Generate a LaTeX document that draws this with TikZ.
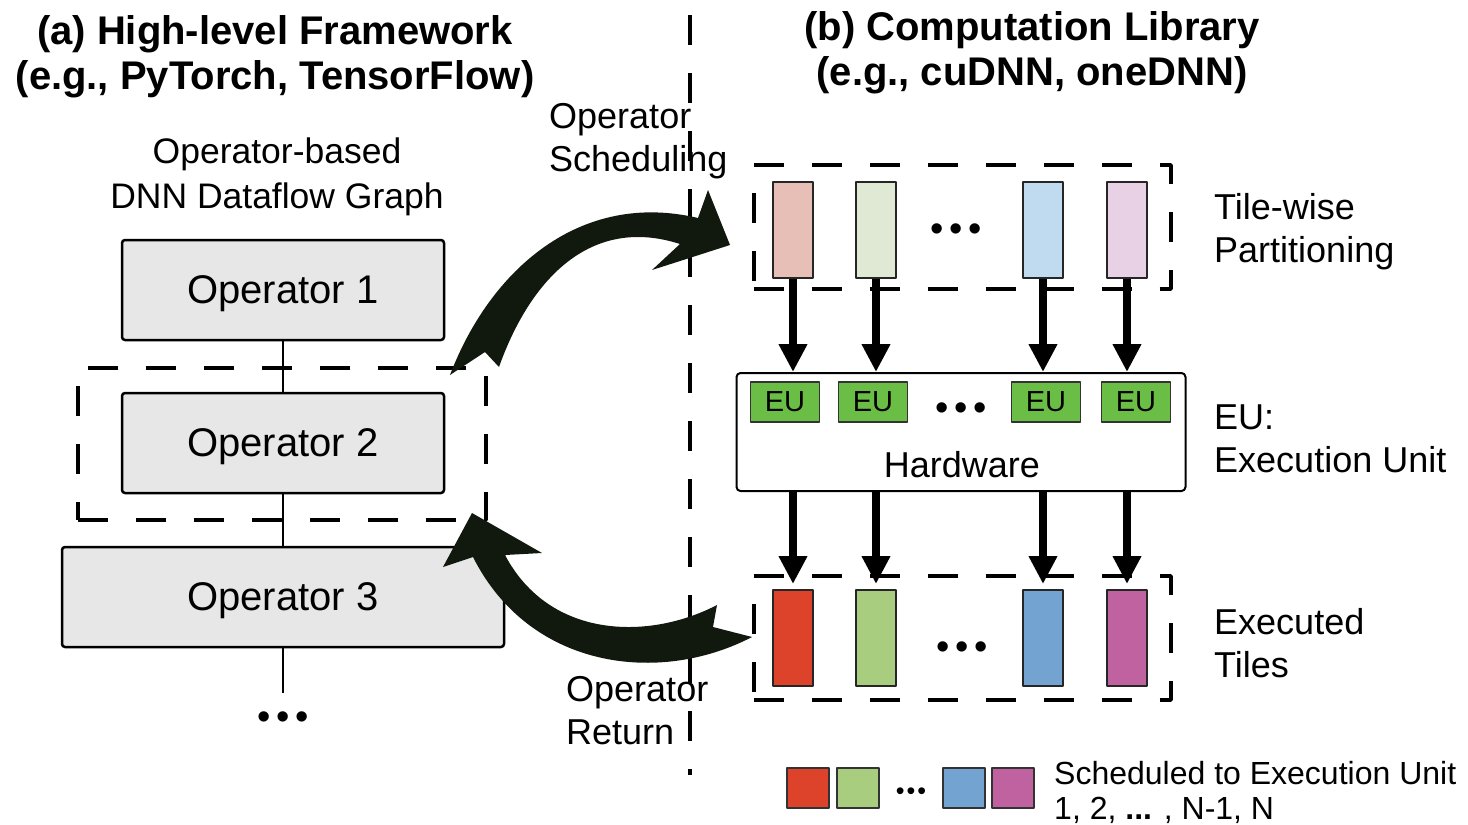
\documentclass[tikz,border=0pt]{standalone}
\usepackage{fontspec}
\setmainfont{Liberation Sans}
\usetikzlibrary{arrows.meta}
\definecolor{arrowdark}{RGB}{17,24,13}
\definecolor{opgray}{RGB}{231,231,231}
\definecolor{eugreen}{RGB}{107,190,69}
\definecolor{tilered}{RGB}{221,66,42}
\definecolor{tilegreen}{RGB}{168,205,126}
\definecolor{tileblue}{RGB}{114,163,209}
\definecolor{tilepink}{RGB}{192,97,160}
\definecolor{palered}{RGB}{232,191,182}
\definecolor{palegreen}{RGB}{224,233,212}
\definecolor{paleblue}{RGB}{192,218,240}
\definecolor{palepink}{RGB}{232,208,229}
\newcommand{\bigdots}{{\fontsize{38}{38}\selectfont •\kern6pt•\kern6pt•}}
\newcommand{\smalldots}{{\fontsize{25}{25}\selectfont •\kern2pt•\kern2pt•}}
\begin{document}
\begin{tikzpicture}[x=1pt,y=-1pt,>=latex,line join=bevel,
  opbox/.style={draw,line width=2.5pt,fill=opgray,rounded corners=3pt,minimum height=100pt,text depth=0pt,font=\fontsize{40}{46}\selectfont},
  tilebox/.style={draw=black!85,line width=2pt,minimum width=40pt,minimum height=96pt,inner sep=0pt},
  eubox/.style={draw=black!80,line width=1.5pt,fill=eugreen,minimum width=69pt,minimum height=40pt,inner sep=0pt,font=\fontsize{29}{29}\selectfont},
  legbox/.style={draw=black!80,line width=1.5pt,minimum width=42pt,minimum height=40pt,inner sep=0pt},
  groupbox/.style={draw,line width=4pt,dash pattern=on 30pt off 28pt,inner sep=0pt},
  sidelabel/.style={anchor=west,align=left,inner sep=0pt,font=\fontsize{36}{43}\selectfont},
  title/.style={align=center,inner sep=0pt,font=\fontsize{40}{45}\selectfont\bfseries},
  fatarrow/.style={line width=8pt,-{Triangle[width=27pt,length=28pt]}},
  bigcurve/.style={fill=arrowdark,draw=none}]
\useasboundingbox (0,0) rectangle (1468,825);
%%
\node (title_a) at (275,57) [title] {(a) High-level Framework\\(e.g., PyTorch, TensorFlow)};
\node (title_b) at (1032,53) [title] {(b) Computation Library\\(e.g., cuDNN, oneDNN)};
\node (graph_label) at (277,177) [align=center,inner sep=0pt,font=\fontsize{35.5}{45}\selectfont] {Operator-based\\DNN Dataflow Graph};
\node (op_1) at (283,290) [opbox,minimum width=322pt] {Operator 1};
\node (op_2) at (283,443) [opbox,minimum width=322pt] {Operator 2};
\node (op_3) at (283,597) [opbox,minimum width=442pt] {Operator 3};
\node (graph_dots) at (283,721) [inner sep=0pt,inner ysep=19pt] {\bigdots};
\node (op_group) at (282,444) [groupbox,minimum width=408pt,minimum height=152pt] {};
\draw [line width=2pt] (op_1) -- (op_2);
\draw [line width=2pt] (op_2) -- (op_3);
\draw [line width=2pt] (op_3) -- (graph_dots);
%
\draw [line width=4pt,dash pattern=on 30pt off 28pt] (690,15) -- (690,775);
%
\node (sched_label) at (549,141) [sidelabel] {Operator\\Scheduling};
\node (return_label) at (566,711) [sidelabel] {Operator\\Return};
%
\node (tiles_in) at (962,227) [groupbox,minimum width=417pt,minimum height=124pt] {};
\node (tile_in_1) at (793,230) [tilebox,fill=palered] {};
\node (tile_in_2) at (876,230) [tilebox,fill=palegreen] {};
\node (tile_in_3) at (1043,230) [tilebox,fill=paleblue] {};
\node (tile_in_4) at (1127,230) [tilebox,fill=palepink] {};
\node (dots_in) at (956,233) [inner sep=0pt] {\bigdots};
%
\node (hw) at (961,432) [draw,line width=2pt,rounded corners=4pt,minimum width=449pt,minimum height=118pt] {};
\node (hw_label) at (962,465) [inner sep=0pt,font=\fontsize{36}{36}\selectfont] {Hardware};
\node (eu_1) at (785,402) [eubox] {EU};
\node (eu_2) at (873,402) [eubox] {EU};
\node (eu_3) at (1046,402) [eubox] {EU};
\node (eu_4) at (1136,402) [eubox] {EU};
\node (dots_eu) at (961,412) [inner sep=0pt] {\bigdots};
%
\node (tiles_out) at (962,638) [groupbox,minimum width=417pt,minimum height=124pt] {};
\node (tile_out_1) at (793,638) [tilebox,fill=tilered] {};
\node (tile_out_2) at (876,638) [tilebox,fill=tilegreen] {};
\node (tile_out_3) at (1043,638) [tilebox,fill=tileblue] {};
\node (tile_out_4) at (1127,638) [tilebox,fill=tilepink] {};
\node (dots_out) at (962,651) [inner sep=0pt] {\bigdots};
%
\foreach \i in {1,...,4}{
  \draw [fatarrow] (tile_in_\i.south) -- (tile_in_\i.south |- hw.north);
  \draw [fatarrow,shorten >=5pt] (tile_out_\i.north |- hw.south) -- (tile_out_\i.north);
}
%
\node (partition_label) at (1214,232) [sidelabel] {Tile-wise\\Partitioning};
\node (eu_label) at (1214,439) [sidelabel] {EU:\\Execution Unit};
\node (executed_label) at (1214,643) [sidelabel] {Executed\\Tiles};
%
\fill [bigcurve] (450,375) .. controls (490,270) and (580,190) .. (698,218) -- (708,190) -- (730,245) -- (652,270) -- (680,244) .. controls (590,215) and (530,280) .. (499,367) -- (485,352) -- cycle;
\fill [bigcurve] (752,637) .. controls (660,685) and (530,670) .. (473,557) -- (443,567) -- (472,513) -- (542,553) -- (505,555) .. controls (550,640) and (650,640) .. (717,605) -- (713,627) -- cycle;
%
\node (leg_1) at (808,788) [legbox,fill=tilered] {};
\node (leg_2) at (858,788) [legbox,fill=tilegreen] {};
\node (leg_dots) at (911,794) [inner sep=0pt] {\smalldots};
\node (leg_3) at (964,788) [legbox,fill=tileblue] {};
\node (leg_4) at (1013,788) [legbox,fill=tilepink] {};
\node (legend_text) at (1054,792) [anchor=west,align=left,inner sep=0pt,font=\fontsize{32}{35}\selectfont] {Scheduled to Execution Unit\\1, 2, \textbf{...} , N-1, N};
%
\end{tikzpicture}
\end{document}
